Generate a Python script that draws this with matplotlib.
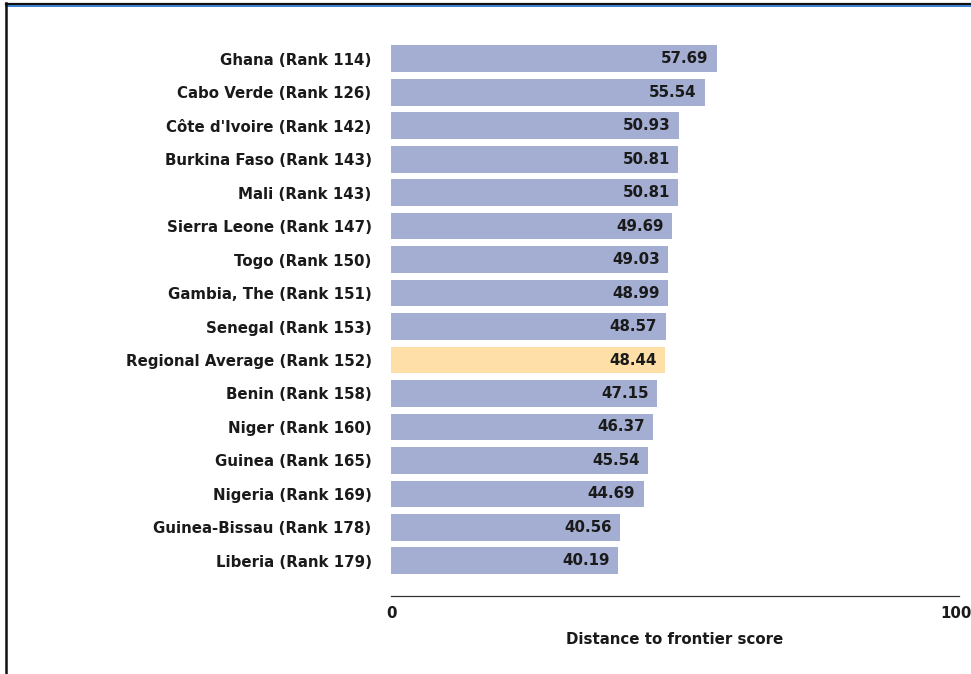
import matplotlib.pyplot as plt
from matplotlib.lines import Line2D

labels = [
    "Ghana (Rank 114)", "Cabo Verde (Rank 126)", "Côte d'Ivoire (Rank 142)",
    "Burkina Faso (Rank 143)", "Mali (Rank 143)", "Sierra Leone (Rank 147)",
    "Togo (Rank 150)", "Gambia, The (Rank 151)", "Senegal (Rank 153)",
    "Regional Average (Rank 152)", "Benin (Rank 158)", "Niger (Rank 160)",
    "Guinea (Rank 165)", "Nigeria (Rank 169)", "Guinea-Bissau (Rank 178)",
    "Liberia (Rank 179)",
]
scores = [57.69, 55.54, 50.93, 50.81, 50.81, 49.69, 49.03, 48.99, 48.57,
          48.44, 47.15, 46.37, 45.54, 44.69, 40.56, 40.19]
highlight = "Regional Average (Rank 152)"

W, H = 971, 674
fs = 10.8
ink = "#1a1a1a"
fig = plt.figure(figsize=(W / 100, H / 100), dpi=100)
ax = fig.add_axes([391 / W, (H - 596) / H, (959 - 391) / W, (596 - 42) / H])

colors = ["#ffdfa8" if l == highlight else "#a4aed3" for l in labels]
ypos = list(range(len(labels)))
bars = ax.barh(ypos, scores, height=0.8, color=colors)

for b, v in zip(bars, scores):
    ax.annotate(f"{v:.2f}", xy=(v, b.get_y() + b.get_height() / 2),
                xytext=(-6, 0), textcoords="offset points",
                ha="right", va="center", fontsize=fs, fontweight="bold",
                color=ink)

ax.set_yticks(ypos)
ax.set_yticklabels(labels, fontsize=fs, fontweight="bold", color=ink)
ax.set_ylim(16.05, -0.5)
ax.set_xlim(0, 100.5)
ax.set_xticks([0, 100])
ax.set_xticklabels(["0", "100"], fontsize=fs, fontweight="bold", color=ink)
ax.tick_params(axis="y", length=0, pad=14)
ax.tick_params(axis="x", length=0, pad=7)
ax.set_xlabel("Distance to frontier score", fontsize=fs, fontweight="bold",
              color=ink, labelpad=8)
for s in ["top", "right", "left"]:
    ax.spines[s].set_visible(False)
ax.spines["bottom"].set_color("#333333")
ax.spines["bottom"].set_linewidth(0.9)

# frame lines of the screenshot
fig.add_artist(Line2D([5.5 / W, 1], [1 - 3.5 / H, 1 - 3.5 / H], color="#111111", lw=1.6))
fig.add_artist(Line2D([5.5 / W, 1], [1 - 6 / H, 1 - 6 / H], color="#3a7fd0", lw=1.4))
fig.add_artist(Line2D([5.5 / W, 5.5 / W], [0, 1 - 3 / H], color="#111111", lw=1.8))

fig.savefig("out.png", dpi=100)
